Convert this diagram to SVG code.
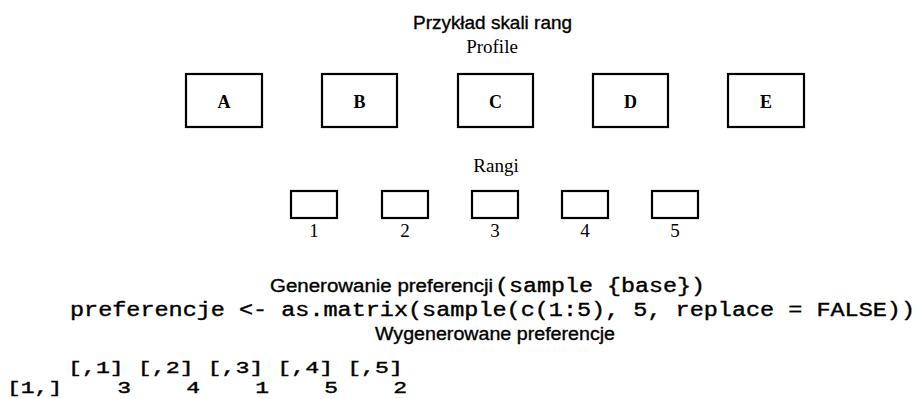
<svg xmlns="http://www.w3.org/2000/svg" width="923" height="399" viewBox="0 0 923 399">
<style>
.bg{fill:#ffffff}
.box{fill:#ffffff;stroke:#000;stroke-width:2.2}
.sans{font-family:"Liberation Sans",Arial,sans-serif;fill:#000;stroke:#000;stroke-width:0.35}
.serif{font-family:"Liberation Serif","Times New Roman",serif;fill:#000}
.mono{font-family:"Liberation Mono","Courier New",monospace;fill:#000;stroke:#000;stroke-width:0.4}
.lbl{font-family:"Liberation Serif","Times New Roman",serif;font-weight:bold;font-size:18px;text-anchor:middle}
.num{font-family:"Liberation Serif","Times New Roman",serif;font-size:19px;text-anchor:middle}
</style>
<rect class="bg" x="0" y="0" width="923" height="399"/>
<text class="sans" x="413" y="29" font-size="19" textLength="159" lengthAdjust="spacingAndGlyphs">Przykład skali rang</text>
<text class="serif" x="492" y="53" font-size="19" text-anchor="middle">Profile</text>
<g id="profile-A"><rect class="box" x="186" y="74" width="76" height="53"/><text class="lbl" x="224" y="108">A</text></g>
<g id="profile-B"><rect class="box" x="322" y="74" width="75" height="53"/><text class="lbl" x="359.5" y="108">B</text></g>
<g id="profile-C"><rect class="box" x="458" y="74" width="75" height="53"/><text class="lbl" x="495.5" y="108">C</text></g>
<g id="profile-D"><rect class="box" x="593" y="74" width="75" height="53"/><text class="lbl" x="630.5" y="108">D</text></g>
<g id="profile-E"><rect class="box" x="728" y="74" width="76" height="53"/><text class="lbl" x="766" y="108">E</text></g>
<text class="serif" x="496" y="172" font-size="19" text-anchor="middle">Rangi</text>
<g id="rank-1"><rect class="box" x="291" y="191" width="46" height="27"/><text class="num" x="314" y="237">1</text></g>
<g id="rank-2"><rect class="box" x="382" y="191" width="46" height="27"/><text class="num" x="405" y="237">2</text></g>
<g id="rank-3"><rect class="box" x="472" y="191" width="46" height="27"/><text class="num" x="495" y="237">3</text></g>
<g id="rank-4"><rect class="box" x="562" y="191" width="46" height="27"/><text class="num" x="585" y="237">4</text></g>
<g id="rank-5"><rect class="box" x="652" y="191" width="46" height="27"/><text class="num" x="675" y="237">5</text></g>
<g id="connectors"></g>
<text class="sans" x="270" y="292" font-size="18" textLength="223" lengthAdjust="spacingAndGlyphs">Generowanie preferencji</text>
<text class="mono" x="495" y="292" font-size="20" textLength="210" lengthAdjust="spacingAndGlyphs">(sample {base})</text>
<text class="mono" x="70" y="316" font-size="20" textLength="845" lengthAdjust="spacingAndGlyphs">preferencje &lt;- as.matrix(sample(c(1:5), 5, replace = FALSE))</text>
<text class="sans" x="375" y="340" font-size="18" textLength="240" lengthAdjust="spacingAndGlyphs">Wygenerowane preferencje</text>
<text class="mono" x="68" y="373" font-size="17" textLength="335" lengthAdjust="spacingAndGlyphs">[,1] [,2] [,3] [,4] [,5]</text>
<text class="mono" x="7" y="393" font-size="17" xml:space="preserve" textLength="400" lengthAdjust="spacingAndGlyphs">[1,]    3    4    1    5    2</text>
</svg>
